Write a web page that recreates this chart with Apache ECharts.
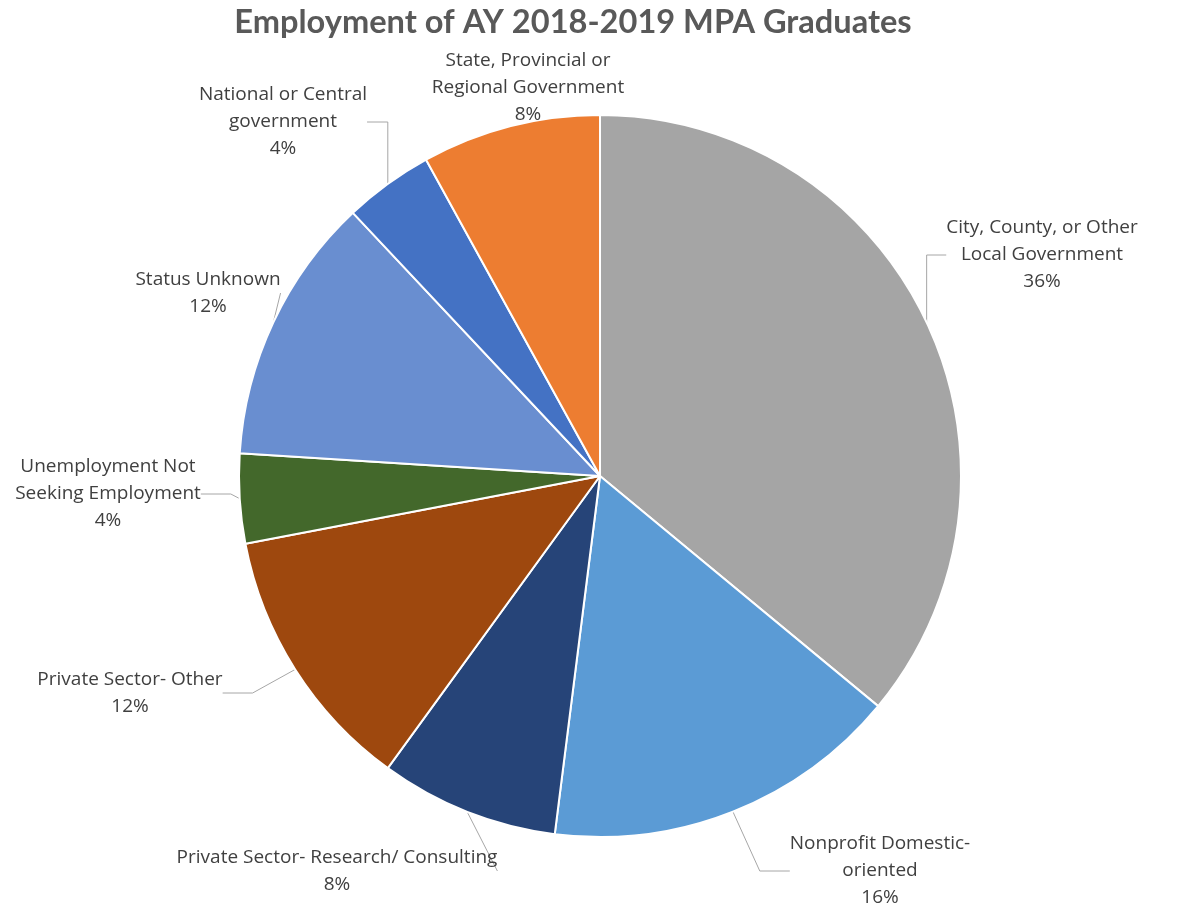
<!DOCTYPE html>
<html>
<head>
<meta charset="utf-8">
<script src="https://cdn.jsdelivr.net/npm/echarts@6/dist/echarts.min.js"></script>
<style>
html,body{margin:0;padding:0;background:#fff;}
#chart{width:1188px;height:913px;}
</style>
</head>
<body>
<div id="chart"></div>
<script>
const categories = [
  "City, County, or Other\nLocal Government",
  "Nonprofit Domestic-\noriented",
  "Private Sector- Research/ Consulting",
  "Private Sector- Other",
  "Unemployment Not\nSeeking Employment",
  "Status Unknown",
  "National or Central\ngovernment",
  "State, Provincial or\nRegional Government"
];
const values = [36, 16, 8, 12, 4, 12, 4, 8];
const colors = ["#A5A5A5", "#5B9BD5", "#264478", "#9E480E", "#43682B", "#698ED0", "#4472C4", "#ED7D31"];
// label centre positions (layout only)
const labelPos = [
  [1042, 255], [880, 871], [337, 871], [130, 693],
  [108, 494], [208, 293], [283, 122], [528, 88]
];

const chart = echarts.init(document.getElementById('chart'));
chart.setOption({
  animation: false,
  title: {
    text: 'Employment of AY 2018-2019 MPA Graduates',
    left: 568, top: 1, textAlign: 'center',
    textStyle: {fontFamily: 'Lato', fontWeight: 'bold', fontSize: 32.6, color: '#595959'}
  },
  series: [{
    type: 'pie',
    center: [600, 476],
    radius: [0, 361],
    startAngle: 90,
    clockwise: true,
    avoidLabelOverlap: false,
    data: categories.map((c, i) => ({name: c, value: values[i], itemStyle: {color: colors[i]}})),
    itemStyle: {borderColor: '#fff', borderWidth: 2},
    label: {
      show: true,
      position: 'outside',
      formatter: '{b}\n{d}%',
      fontFamily: 'Open Sans',
      fontSize: 19,
      lineHeight: 27,
      color: '#404040',
      align: 'center'
    },
    labelLine: {show: true, lineStyle: {color: '#A6A6A6', width: 1}, smooth: false},
    labelLayout: function (p) {
      const pos = labelPos[p.dataIndex];
      return {x: pos[0], y: pos[1], align: 'center', verticalAlign: 'middle'};
    }
  }]
});
</script>
</body>
</html>
